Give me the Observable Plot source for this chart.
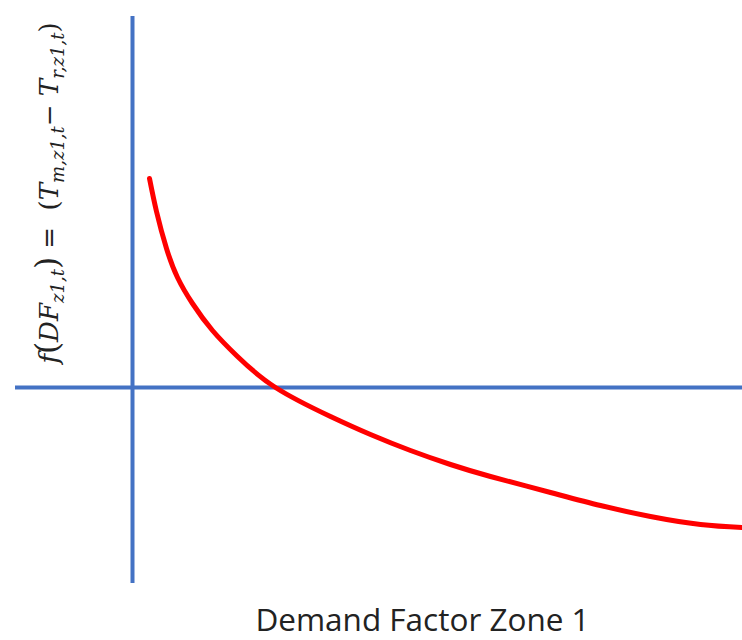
<!DOCTYPE html>
<html><head><meta charset="utf-8">
<script src="https://cdn.jsdelivr.net/npm/d3@7"></script>
<script src="https://cdn.jsdelivr.net/npm/@observablehq/plot@0.6"></script>
<style>body{margin:0;background:#fff}</style>
</head><body><div id="chart"></div>
<script>
// Demand factor (x) vs f(DF) (y), origin at axes crossing
const demandFactor = [17, 24, 34, 45, 60, 80, 105, 143, 198, 238, 278, 318, 358, 418, 468, 518, 568, 610];
const fValue       = [209, 176, 139, 110, 84, 57, 31, 0, -29, -47, -63, -77, -89, -105, -118, -129, -137, -140];
const xAxisExtent = [-117, 610];
const yAxisExtent = [-196, 371];
const xLabel = "Demand Factor Zone 1";

const curve = demandFactor.map((x, i) => ({x, y: fValue[i]}));

const plot = Plot.plot({
  width: 742, height: 640,
  margin: 0,
  x: {domain: [-132, 610], axis: null},
  y: {domain: [-253, 387], axis: null},
  marks: [
    Plot.ruleY([0], {x1: xAxisExtent[0], x2: xAxisExtent[1], stroke: "#4472C4", strokeWidth: 4}),
    Plot.ruleX([0], {y1: yAxisExtent[0], y2: yAxisExtent[1], stroke: "#4472C4", strokeWidth: 4}),
    Plot.line(curve, {x: "x", y: "y", stroke: "#ff0000", strokeWidth: 5, curve: "natural"}),
    Plot.text([xLabel], {x: 290, y: -253, frameAnchor: "bottom", lineAnchor: "bottom", dy: -10, text: d => d, fontSize: 31.5, fill: "#222", fontFamily: "Open Sans, Lato, sans-serif"})
  ]
});
document.getElementById("chart").appendChild(plot);

// y label with subscripts
const svg = d3.select(plot);
const t = svg.append("text")
  .attr("transform", "translate(58,193) rotate(-90)")
  .attr("text-anchor", "middle")
  .attr("font-family", "DejaVu Serif, Liberation Serif, serif")
  .attr("font-style", "italic")
  .attr("font-size", 26)
  .attr("fill", "#222");
const parts = [
  ["f", 0], ["(", 0, true, 31], ["DF", 0], ["z1,t", 1], [")", 0, true, 31], [" = ", 0, true], [" (", 0, true],
  ["T", 0], ["m,z1,t", 1], ["−", 0, true], [" T", 0], ["r,z1,t", 1], [")", 0, true]
];
let prevSub = false;
for (const [s, sub, upright, size] of parts) {
  const ts = t.append("tspan").text(s).attr("xml:space", "preserve");
  if (upright) ts.attr("font-style", "normal");
  if (size) ts.attr("font-size", size);
  if (sub) { ts.attr("font-size", 18).attr("dy", 6); prevSub = true; }
  else if (prevSub) { ts.attr("dy", -6); prevSub = false; }
}
t.style("white-space", "pre");
</script></body></html>
